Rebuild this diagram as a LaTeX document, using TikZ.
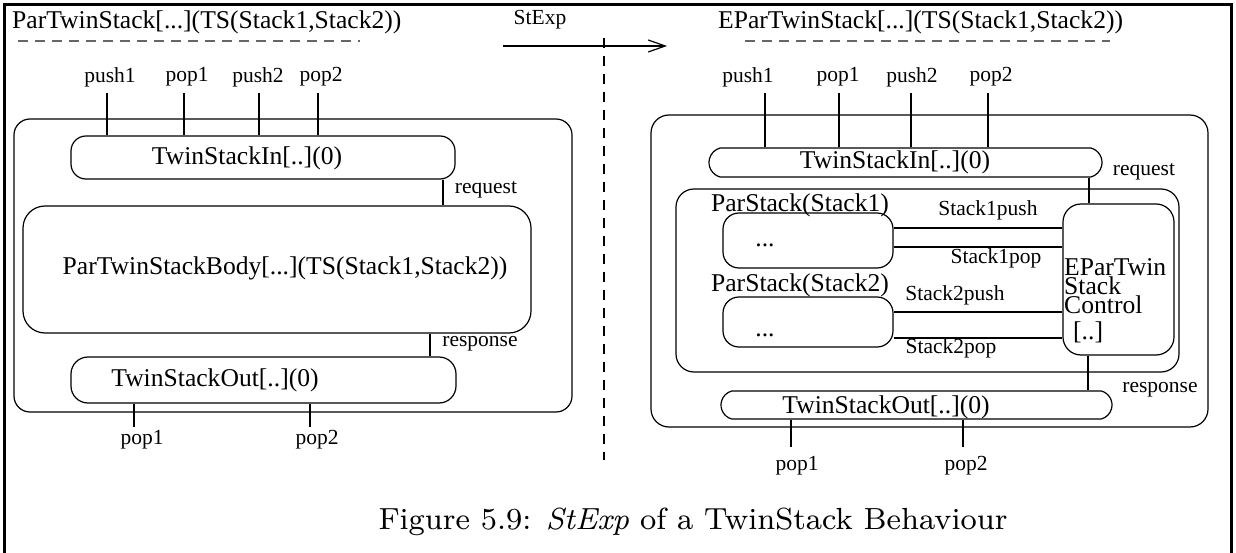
\documentclass[tikz,border=0pt]{standalone}
\usepackage{fontspec}
\setmainfont{Liberation Serif}
\usetikzlibrary{arrows.meta,shapes.misc}
\tikzset{
  big/.style={font=\fontsize{25.6}{18}\selectfont, inner sep=0pt},
  small/.style={font=\fontsize{21.5}{22}\selectfont, inner sep=0pt},
  wire/.style={line width=1.2pt},
  rbox/.style={draw, line width=1.2pt, rounded corners=#1, inner sep=0pt},
  pill/.style={draw, line width=1.2pt, rounded rectangle, rounded rectangle arc length=150, inner sep=0pt},
  uline/.style={draw=black!60, line width=1.4pt, dash pattern=on 10pt off 7pt},
  divider/.style={line width=1.1pt, dash pattern=on 10pt off 8pt},
  frame/.style={line width=3pt},
}
\begin{document}
\begin{tikzpicture}[x=1pt, y=-1pt]
\useasboundingbox (0,0) rectangle (1236,553);

% page frame
\draw[frame] (4,553) -- (4,5) -- (1231,5) -- (1231,553);

% ---------- headings and the transformation arrow ----------
\node[big, anchor=west] (ttlL) at (12,22) {ParTwinStack[...](TS(Stack1,Stack2))};
\node[big, anchor=west] (ttlR) at (718,22) {EParTwinStack[...](TS(Stack1,Stack2))};
\coordinate (ulLa) at (18,41);  \coordinate (ulLb) at (360,41);
\coordinate (ulRa) at (745,41); \coordinate (ulRb) at (1110,41);
\draw[uline] (ulLa) -- (ulLb);
\draw[uline] (ulRa) -- (ulRb);

\node[small] (stexp) at (540,20) {StExp};
\coordinate (arrA) at (503,46); \coordinate (arrB) at (667,46);
\draw[wire, -{Straight Barb[length=17pt,width=12pt,line width=1.2pt]}] (arrA) -- (arrB);

\coordinate (divA) at (604,38); \coordinate (divB) at (604,460);
\draw[divider] (divA) -- (divB);

% ---------- left: ParTwinStack ----------
\node[rbox=16, minimum width=558, minimum height=293] (outerL) at (293,265.5) {};
\node[rbox=15, minimum width=384, minimum height=43] (tsinL) at (263,157.5) {};
\node[big] (tsinLt) at (247,158) {TwinStackIn[..](0)};
\node[rbox=22, minimum width=508, minimum height=127] (bodyL) at (277,269.5) {};
\node[big] (bodyLt) at (285,268) {ParTwinStackBody[...](TS(Stack1,Stack2))};
\node[rbox=17, minimum width=385, minimum height=46] (tsoutL) at (263.5,380) {};
\node[big] (tsoutLt) at (215,380) {TwinStackOut[..](0)};

\node[small] (push1L) at (110,77) {push1};
\node[small] (pop1L)  at (187,77) {pop1};
\node[small] (push2L) at (258,77) {push2};
\node[small] (pop2L)  at (321,77) {pop2};
\coordinate (cpush1L) at (107,93);
\coordinate (cpop1L)  at (184,93);
\coordinate (cpush2L) at (259,93);
\coordinate (cpop2L)  at (318,93);
\foreach \c in {cpush1L,cpop1L,cpush2L,cpop2L}
  \draw[wire] (\c) -- (\c |- tsinL.north);

\coordinate (reqL) at (443,0);
\draw[wire] (reqL |- tsinL.south) -- (reqL |- bodyL.north);
\node[small] (reqLt) at (486,190) {request};
\coordinate (resL) at (430,0);
\draw[wire] (resL |- bodyL.south) -- (resL |- tsoutL.north);
\node[small] (resLt) at (480,344) {response};

\coordinate (opop1L) at (134,427);
\coordinate (opop2L) at (310,427);
\draw[wire] (opop1L |- tsoutL.south) -- (opop1L);
\draw[wire] (opop2L |- tsoutL.south) -- (opop2L);
\node[small] (opop1Lt) at (142,440) {pop1};
\node[small] (opop2Lt) at (317,440) {pop2};

% ---------- right: EParTwinStack ----------
\node[rbox=18, minimum width=557, minimum height=312] (outerR) at (929.5,271) {};
\node[pill, minimum width=393, minimum height=29] (tsinR) at (905.5,162.5) {};
\node[big] (tsinRt) at (895,162) {TwinStackIn[..](0)};

\node[small] (push1R) at (748,77) {push1};
\node[small] (pop1R)  at (838,77) {pop1};
\node[small] (push2R) at (912,77) {push2};
\node[small] (pop2R)  at (991,77) {pop2};
\coordinate (cpush1R) at (765,93);
\coordinate (cpop1R)  at (839,93);
\coordinate (cpush2R) at (911,93);
\coordinate (cpop2R)  at (988,93);
\foreach \c in {cpush1R,cpop1R,cpush2R,cpop2R}
  \draw[wire] (\c) -- (\c |- tsinR.north);

\node[rbox=18, minimum width=503, minimum height=183] (contR) at (927.5,280.5) {};
\node[big] (ps1t) at (800,205) {ParStack(Stack1)};
\node[rbox=16, minimum width=170, minimum height=55] (ps1) at (808,240.5) {};
\node[big] (ps1d) at (765,245) {...};
\node[big] (ps2t) at (800,285) {ParStack(Stack2)};
\node[rbox=16, minimum width=170, minimum height=50] (ps2) at (808,322) {};
\node[big] (ps2d) at (765,335) {...};

\node[rbox=18, minimum width=111, minimum height=151] (ctrl) at (1118.5,279.5) {};
\node[big, align=left, anchor=north west] (ctrlt) at (1064,258)
  {EParTwin\\Stack\\Control\\[7pt]\hspace*{9pt}[..]};

\coordinate (s1push) at (0,228);
\coordinate (s1pop)  at (0,247);
\coordinate (s2push) at (0,312);
\coordinate (s2pop)  at (0,338);
\draw[wire] (ps1.east |- s1push) -- (ctrl.west |- s1push);
\draw[wire] (ps1.east |- s1pop)  -- (ctrl.west |- s1pop);
\draw[wire] (ps2.east |- s2push) -- (ctrl.west |- s2push);
\draw[wire] (ps2.east |- s2pop)  -- (ctrl.west |- s2pop);
\node[small] (s1pusht) at (988,210) {Stack1push};
\node[small] (s1popt)  at (996,258) {Stack1pop};
\node[small] (s2pusht) at (955,295) {Stack2push};
\node[small] (s2popt)  at (951,348) {Stack2pop};

\node[pill, minimum width=391, minimum height=28] (tsoutR) at (916.5,405) {};
\node[big] (tsoutRt) at (886,407) {TwinStackOut[..](0)};

\coordinate (reqR) at (1089,0);
\draw[wire] (reqR |- tsinR.south) -- (reqR |- ctrl.north);
\node[small] (reqRt) at (1144,172) {request};
\coordinate (resR) at (1088,0);
\draw[wire] (resR |- ctrl.south) -- (resR |- tsoutR.north);
\node[small] (resRt) at (1160,390) {response};

\coordinate (opop1R) at (791,447);
\coordinate (opop2R) at (963,447);
\draw[wire] (opop1R |- tsoutR.south) -- (opop1R);
\draw[wire] (opop2R |- tsoutR.south) -- (opop2R);
\node[small] (opop1Rt) at (797,466) {pop1};
\node[small] (opop2Rt) at (966,466) {pop2};

% ---------- caption ----------
\node[font=\fontfamily{lmr}\fontsize{8}{10}\selectfont, scale=3.82, inner sep=0pt]
  (cap) at (693,522) {Figure 5.9: \textit{StExp} of a TwinStack Behaviour};
\end{tikzpicture}
\end{document}
